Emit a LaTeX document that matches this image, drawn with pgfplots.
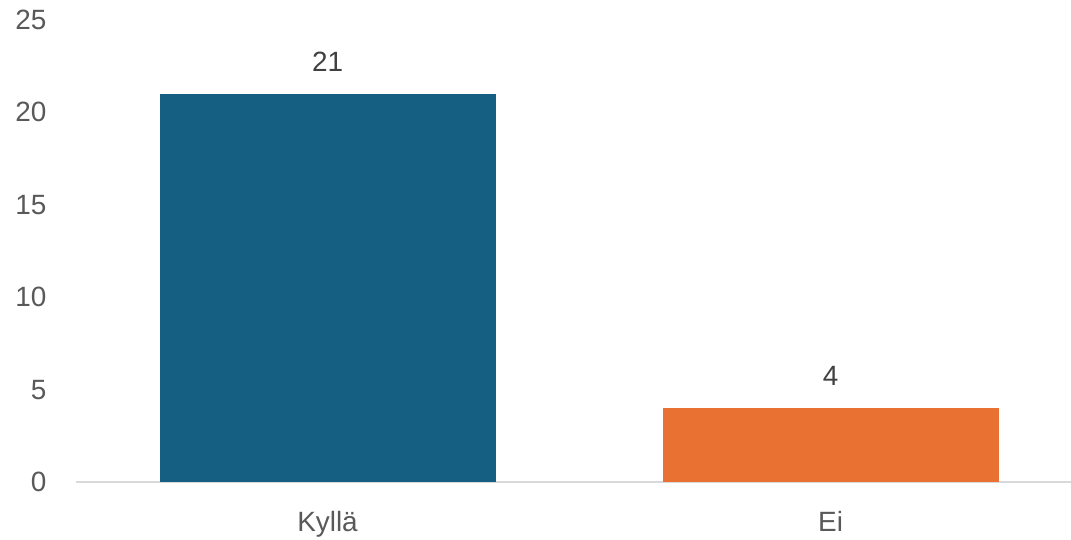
\documentclass[border=0pt]{standalone}
\usepackage{pgfplots}
\pgfplotsset{compat=1.18}
\usepackage{fontspec}
\setmainfont{Liberation Sans}
\definecolor{barblue}{HTML}{156082}
\definecolor{barorange}{HTML}{E97132}
\definecolor{ticktext}{HTML}{595959}
\definecolor{labeltext}{HTML}{404040}
\definecolor{axisgray}{HTML}{D9D9D9}
\begin{document}
\begin{tikzpicture}[x=1bp,y=1bp]
\useasboundingbox (0,0) rectangle (1071,540);
\begin{axis}[
  at={(76bp,58bp)}, anchor=south west,
  scale only axis,
  width=995bp, height=462bp,
  xmin=-0.5, xmax=1.478,
  ymin=0, ymax=25,
  ytick={0,5,10,15,20,25},
  xtick={0,1},
  xticklabels={Kyllä,Ei},
  axis x line*=bottom,
  axis y line*=left,
  y axis line style={draw=none},
  x axis line style={draw=axisgray, line width=1.5pt, -},
  major tick length=0pt,
  ytick style={draw=none},
  xtick style={draw=none},
  tick label style={font=\fontsize{28}{34}\selectfont, text=ticktext},
  /pgf/number format/assume math mode=true,
  yticklabel style={anchor=east, xshift=-26bp},
  xticklabel style={anchor=base, yshift=-50bp},
  ybar, bar width=0.668,
  nodes near coords,
  every node near coord/.append style={font=\fontsize{28}{34}\selectfont, text=labeltext, anchor=south, inner sep=0pt, yshift=22bp},
  clip=false,
]
\addplot[bar shift=0pt, fill=barblue, draw=none] coordinates {(0,21)};
\addplot[bar shift=0pt, fill=barorange, draw=none] coordinates {(1,4)};
\end{axis}
\end{tikzpicture}
\end{document}
